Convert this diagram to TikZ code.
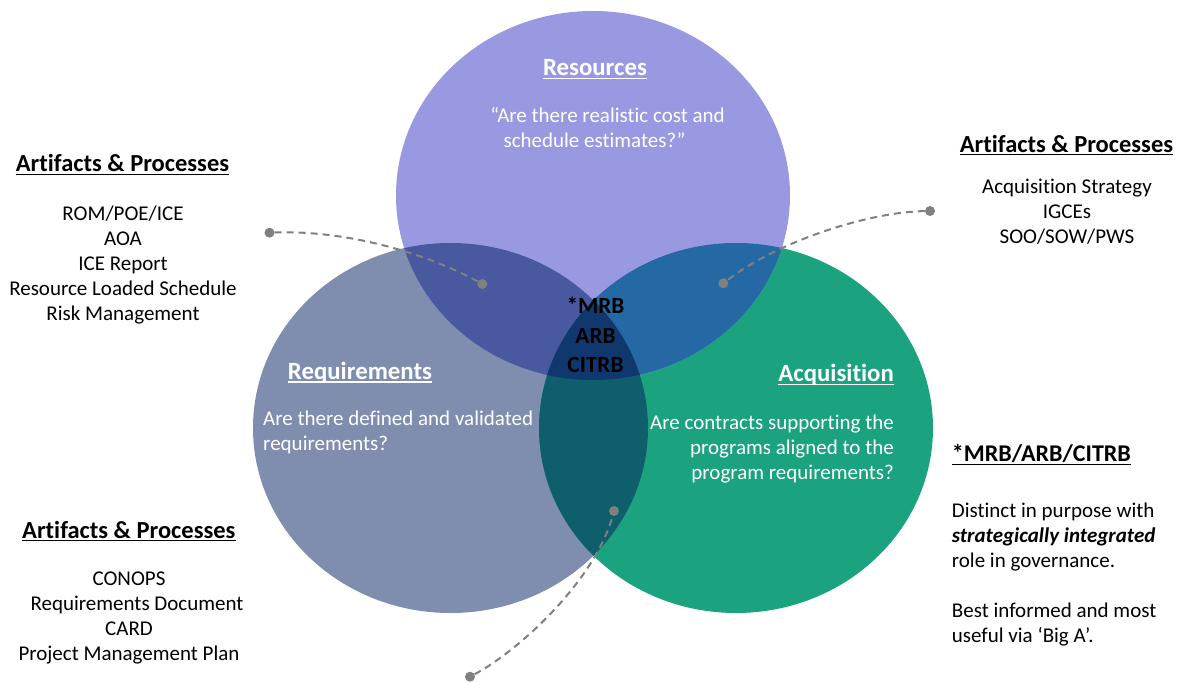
\documentclass[tikz,border=0pt]{standalone}
\usepackage{fontspec}
\setmainfont[Ligatures={NoCommon}]{Carlito}
\definecolor{cRes}{RGB}{153,153,225}
\definecolor{cReq}{RGB}{127,141,175}
\definecolor{cAcq}{RGB}{27,163,128}
\definecolor{cResReq}{RGB}{73,89,160}
\definecolor{cResAcq}{RGB}{36,105,163}
\definecolor{cReqAcq}{RGB}{14,94,108}
\definecolor{cAll}{RGB}{16,55,110}
\definecolor{dashc}{RGB}{128,128,128}
\begin{document}
\begin{tikzpicture}[x=1bp,y=-1bp,
  body/.style={font=\fontsize{21bp}{25bp}\selectfont, inner sep=0, anchor=base},
  hd/.style={font=\fontsize{24.5bp}{29bp}\selectfont\bfseries, inner sep=0, anchor=base},
  mhd/.style={font=\fontsize{23.2bp}{29bp}\selectfont\bfseries, inner sep=0, anchor=base},
  chd/.style={font=\fontsize{24.8bp}{29bp}\selectfont\bfseries, text=white, inner sep=0, anchor=base},
  ulb/.style={draw=black, line width=1.3bp},
  ulw/.style={draw=white, line width=1.3bp},
  dot/.style={circle, fill=dashc, inner sep=0, minimum size=10bp},
  dashline/.style={draw=dashc, line width=2bp, dash pattern=on 7bp off 5bp}]
\useasboundingbox (0,0) rectangle (1184,683);
\fill[white] (0,0) rectangle (1184,683);
% circles
\fill[cReq] (450.5,428) ellipse [x radius=197.5bp, y radius=185bp];
\fill[cAcq] (736,428) ellipse [x radius=197bp, y radius=185bp];
\fill[cRes] (593,195.5) ellipse [x radius=197bp, y radius=184.5bp];
\begin{scope}
  \clip (593,195.5) ellipse [x radius=197bp, y radius=184.5bp];
  \fill[cResReq] (450.5,428) ellipse [x radius=197.5bp, y radius=185bp];
\end{scope}
\begin{scope}
  \clip (593,195.5) ellipse [x radius=197bp, y radius=184.5bp];
  \fill[cResAcq] (736,428) ellipse [x radius=197bp, y radius=185bp];
\end{scope}
\begin{scope}
  \clip (450.5,428) ellipse [x radius=197.5bp, y radius=185bp];
  \fill[cReqAcq] (736,428) ellipse [x radius=197bp, y radius=185bp];
\end{scope}
\begin{scope}
  \clip (593,195.5) ellipse [x radius=197bp, y radius=184.5bp];
  \clip (450.5,428) ellipse [x radius=197.5bp, y radius=185bp];
  \fill[cAll] (736,428) ellipse [x radius=197bp, y radius=185bp];
\end{scope}
% connectors
\node[dot] (d1a) at (269.5,232.7) {};
\node[dot] (d1b) at (482.3,284) {};
\node[dot] (d2a) at (930,211) {};
\node[dot] (d2b) at (723.3,283.3) {};
\node[dot] (d3a) at (470,676.7) {};
\node[dot] (d3b) at (614,511) {};
\draw[dashline] (d1a) .. controls (340,230) and (420,250) .. (d1b);
\draw[dashline] (d2a) .. controls (870,212) and (780,240) .. (d2b);
\draw[dashline] (d3a) .. controls (520,650) and (595,580) .. (d3b);
% circle texts
\node[chd] (resT) at (595,75.7) {Resources};
\draw[ulw] ([yshift=-2.8bp]resT.base west) -- ([yshift=-2.8bp]resT.base east);
\node[body, text=white] (resQ1) at (607.5,122.7) {“Are there realistic cost and};
\node[body, text=white] (resQ2) at (594.5,147.7) {schedule estimates?”};
\node[chd] (reqT) at (360,379.3) {Requirements};
\draw[ulw] ([yshift=-2.8bp]reqT.base west) -- ([yshift=-2.8bp]reqT.base east);
\node[body, text=white, anchor=base west] (reqQ1) at (263,425.7) {Are there defined and validated};
\node[body, text=white, anchor=base west] (reqQ2) at (263,450.7) {requirements?};
\node[chd, anchor=base east] (acqT) at (894,381.7) {Acquisition};
\draw[ulw] ([yshift=-2.8bp]acqT.base west) -- ([yshift=-2.8bp]acqT.base east);
\node[body, text=white, anchor=base east] (acqQ1) at (894,429) {Are contracts supporting the};
\node[body, text=white, anchor=base east] (acqQ2) at (894,454) {programs aligned to the};
\node[body, text=white, anchor=base east] (acqQ3) at (894,479) {program requirements?};
\node[mhd] (mrb1) at (595.5,313.3) {*MRB};
\node[mhd] (mrb2) at (595.5,343.1) {ARB};
\node[mhd] (mrb3) at (595.5,372.7) {CITRB};
% left top artifacts
\node[hd] (lah) at (122.5,171.7) {Artifacts \& Processes};
\draw[ulb] ([yshift=-2.5bp]lah.base west) -- ([yshift=-2.5bp]lah.base east);
\foreach \t [count=\i] in {ROM/POE/ICE, AOA, ICE Report, Resource Loaded Schedule, Risk Management}
  \node[body] (la\i) at (123,{220.5+25*(\i-1)}) {\t};
% right top artifacts
\node[hd] (rah) at (1066.5,152.3) {Artifacts \& Processes};
\draw[ulb] ([yshift=-2.5bp]rah.base west) -- ([yshift=-2.5bp]rah.base east);
\foreach \t [count=\i] in {Acquisition Strategy, IGCEs, SOO/SOW/PWS}
  \node[body] (ra\i) at (1067,{193.3+25*(\i-1)}) {\t};
% bottom left artifacts
\node[hd] (bah) at (128.8,538.3) {Artifacts \& Processes};
\draw[ulb] ([yshift=-2.5bp]bah.base west) -- ([yshift=-2.5bp]bah.base east);
\node[body] (ba1) at (129,585) {CONOPS};
\node[body] (ba2) at (137,610) {Requirements Document};
\node[body] (ba3) at (129,635) {CARD};
\node[body] (ba4) at (129,660) {Project Management Plan};
% bottom right note
\node[hd, anchor=base west, font=\fontsize{24bp}{29bp}\selectfont\bfseries] (mh) at (951.7,461.7) {*MRB/ARB/CITRB};
\draw[ulb] ([yshift=-2.5bp]mh.base west) -- ([yshift=-2.5bp]mh.base east);
\node[body, anchor=base west] (m1) at (951.7,517.5) {Distinct in purpose with};
\node[body, anchor=base west, font=\fontsize{21bp}{25bp}\selectfont\bfseries\itshape] (m2) at (951.7,542.5) {strategically integrated};
\node[body, anchor=base west] (m3) at (951.7,567.5) {role in governance.};
\node[body, anchor=base west] (m4) at (951.7,617.5) {Best informed and most};
\node[body, anchor=base west] (m5) at (951.7,642.5) {useful via ‘Big A’.};
\end{tikzpicture}
\end{document}
